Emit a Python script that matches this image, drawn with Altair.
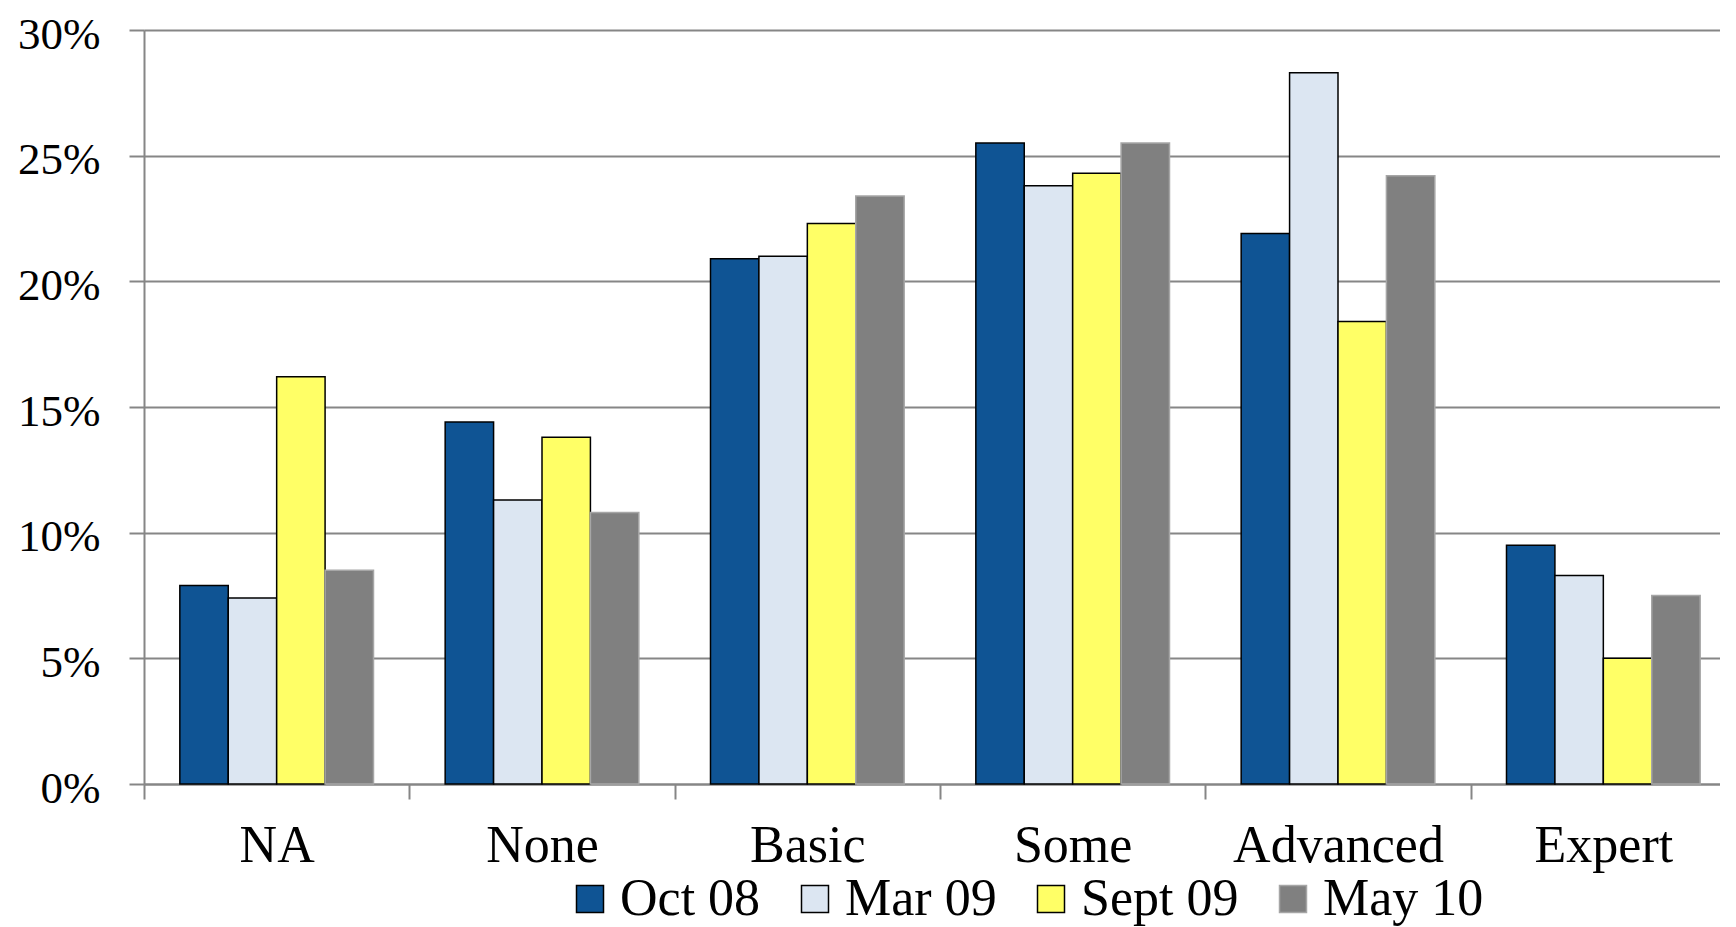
import altair as alt
import pandas as pd

categories = ["NA", "None", "Basic", "Some", "Advanced", "Expert"]
series_names = ["Oct 08", "Mar 09", "Sept 09", "May 10"]
oct08 = [7.9, 14.4, 20.9, 25.5, 21.9, 9.5]
mar09 = [7.4, 11.3, 21.0, 23.8, 28.3, 8.3]
sept09 = [16.2, 13.8, 22.3, 24.3, 18.4, 5.0]
may10 = [8.5, 10.8, 23.4, 25.5, 24.2, 7.5]
y_ticks = [0, 5, 10, 15, 20, 25, 30]

colors = ["#0F5494", "#DCE6F2", "#FFFF66", "#808080"]
strokes = ["#000000", "#000000", "#000000", "#A6A6A6"]

rows = []
for name, vals in zip(series_names, [oct08, mar09, sept09, may10]):
    for c, v in zip(categories, vals):
        rows.append({"category": c, "series": name, "value": v})
df = pd.DataFrame(rows)

FONT = "Liberation Serif"
GRID = "#868686"

legend_kw = dict(title=None, orient="none", direction="horizontal",
                 legendX=420, legendY=843,
                 symbolType="square", symbolSize=729,
                 symbolStrokeWidth=1.5,
                 labelFont=FONT, labelFontSize=52, labelLimit=400,
                 labelColor="#000000", labelOffset=4,
                 columnPadding=28, padding=0)

bars = alt.Chart(df).mark_bar(strokeWidth=1.5).encode(
    x=alt.X("category:N", sort=categories,
            scale=alt.Scale(paddingInner=0, paddingOuter=0, range=[0, 1592]),
            axis=alt.Axis(title=None, labelAngle=0, tickBand="extent",
                          labelFontSize=52, labelFont=FONT, labelColor="#000000",
                          labelLimit=400,
                          tickSize=15, tickColor=GRID, tickWidth=2,
                          domainColor=GRID, domainWidth=2, labelPadding=21,
                          grid=False)),
    xOffset=alt.XOffset("series:N", sort=series_names,
                        scale=alt.Scale(paddingInner=0, paddingOuter=0.74)),
    y=alt.Y("value:Q",
            scale=alt.Scale(domain=[0, 30], nice=False),
            axis=alt.Axis(title=None, values=y_ticks,
                          labelExpr="datum.value + '%'",
                          labelFontSize=45, labelFont=FONT, labelColor="#000000",
                          labelOffset=4,
                          tickSize=15, tickColor=GRID, tickWidth=2,
                          domainColor=GRID, domainWidth=2, labelPadding=29,
                          grid=True, gridColor=GRID, gridWidth=2)),
    color=alt.Color("series:N", sort=series_names,
                    scale=alt.Scale(domain=series_names, range=colors),
                    legend=alt.Legend(**legend_kw)),
    stroke=alt.Stroke("series:N", sort=series_names,
                      scale=alt.Scale(domain=series_names, range=strokes),
                      legend=alt.Legend(**legend_kw)),
)

chart = bars.properties(
    width=1576, height=754,
    autosize=alt.AutoSizeParams(type="none"),
    padding={"left": 136, "top": 22, "right": 0, "bottom": 143},
).configure_view(stroke=None).configure(background="white")

chart.save("out.html", embed_options={"renderer": "svg", "actions": False})
